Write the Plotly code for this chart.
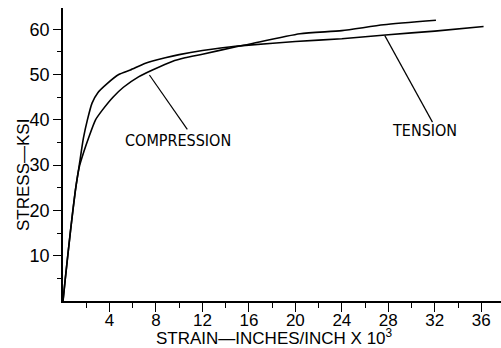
import plotly.graph_objects as go

# Tension curve (strain x10^3, stress ksi)
tension_strain = [0, 0.2, 0.65, 1.07, 1.4, 1.76, 2.1, 2.5, 3.0, 3.8, 4.8, 5.8, 7.1, 8.8, 10, 12, 15, 16, 20, 24, 28, 32, 36.2]
tension_stress = [0, 5, 15.6, 24.5, 30, 36, 40, 43.7, 46, 48, 50, 51, 52.5, 53.7, 54.4, 55.3, 56.3, 56.5, 57.3, 57.9, 58.8, 59.6, 60.6]

# Compression curve
comp_strain = [0, 0.2, 0.65, 1.07, 1.4, 1.8, 2.2, 2.8, 3.4, 4.3, 5.2, 6.5, 7.7, 9.4, 10.5, 12, 15, 16, 20.4, 24, 27.6, 32.1]
comp_stress = [0, 5, 15.6, 24.5, 29.6, 33, 36, 40, 42.2, 45, 47.2, 49.5, 51, 52.9, 53.7, 54.5, 56.2, 56.7, 59.0, 59.7, 61.0, 62.0]

# Tick labels
x_major = [4, 8, 12, 16, 20, 24, 28, 32, 36]
x_minor = [2, 6, 10, 14, 18, 22, 26, 30, 34]
y_major = [10, 20, 30, 40, 50, 60]
y_minor = [5, 15, 25, 35, 45, 55]

# Axis titles
x_title = "STRAIN—INCHES/INCH X 10<sup>3</sup>"
y_title = "STRESS—KSI"

# Labels and pointer lines (data coords)
labels = ["COMPRESSION", "TENSION"]
label_x = [9.89, 31.1]
label_y = [35.5, 37.6]
pointer_x0 = [7.44, 27.7]
pointer_y0 = [49.9, 58.6]
pointer_x1 = [10.7, 31.8]
pointer_y1 = [37.9, 39.5]

FONT = "Liberation Sans, Arial, sans-serif"
NARROW = "DejaVu Sans Condensed, Liberation Sans Narrow, Arial Narrow, sans-serif"

fig = go.Figure()
fig.add_trace(go.Scatter(x=tension_strain, y=tension_stress, mode="lines",
                         line=dict(color="black", width=1.6, shape="spline", smoothing=0.6),
                         name="Tension", showlegend=False))
fig.add_trace(go.Scatter(x=comp_strain, y=comp_stress, mode="lines",
                         line=dict(color="black", width=1.6, shape="spline", smoothing=0.6),
                         name="Compression", showlegend=False))

for i in range(len(labels)):
    fig.add_shape(type="line", xref="x", yref="y",
                  x0=pointer_x0[i], y0=pointer_y0[i], x1=pointer_x1[i], y1=pointer_y1[i],
                  line=dict(color="black", width=1.2))
    fig.add_annotation(x=label_x[i], y=label_y[i], xref="x", yref="y", text=labels[i],
                       showarrow=False, font=dict(family=NARROW, size=16, color="black"))

# Axis titles as annotations (fixed placement)
fig.add_annotation(x=0.484, y=0, xref="paper", yref="paper", yshift=-36,
                   xanchor="center", yanchor="middle", text=x_title, showarrow=False,
                   font=dict(family=FONT, size=17, color="black"))
fig.add_annotation(x=0, y=0.43, xref="paper", yref="paper", xshift=-40,
                   xanchor="center", yanchor="middle", text=y_title, textangle=-90,
                   showarrow=False, font=dict(family=FONT, size=17, color="black"))

fig.update_layout(
    width=501, height=348,
    margin=dict(l=63, r=0, t=8, b=47, autoexpand=False),
    paper_bgcolor="white", plot_bgcolor="white",
    font=dict(family=FONT, size=18, color="black"),
    showlegend=False,
)
fig.update_xaxes(
    range=[0, 37.7], showgrid=False, zeroline=False, automargin=False,
    showline=True, linecolor="black", linewidth=1.6,
    tickmode="array", tickvals=x_major, ticktext=[str(v) for v in x_major],
    ticks="outside", ticklen=9, tickwidth=1.3, tickcolor="black",
    minor=dict(tickmode="array", tickvals=x_minor, ticks="outside", ticklen=5, tickwidth=1.2, tickcolor="black", showgrid=False),
    tickfont=dict(family=FONT, size=17), ticklabelstandoff=-6,
)
fig.update_yaxes(
    range=[0, 64.7], showgrid=False, zeroline=False, automargin=False,
    showline=True, linecolor="black", linewidth=1.6,
    tickmode="array", tickvals=y_major, ticktext=[str(v) for v in y_major],
    ticks="outside", ticklen=8, tickwidth=1.3, tickcolor="black",
    minor=dict(tickmode="array", tickvals=y_minor, ticks="outside", ticklen=4, tickwidth=1.2, tickcolor="black", showgrid=False),
    tickfont=dict(family=FONT, size=18),
)

fig.write_html("out.html", config={"displayModeBar": False},
               post_script="document.body.style.margin='0';document.body.style.padding='0';")
